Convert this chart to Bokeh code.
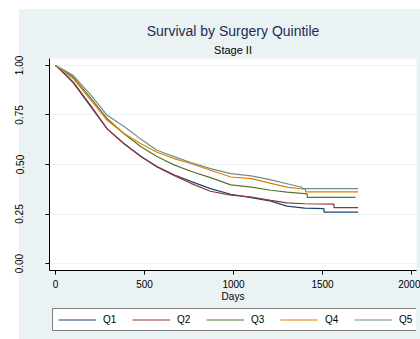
from bokeh.plotting import figure
from bokeh.models import Legend, LegendItem, Title, FixedTicker
from bokeh.layouts import column
from bokeh.embed import file_html
from bokeh.resources import INLINE

# ---- data ----
x_ticks = [0, 500, 1000, 1500, 2000]
y_ticks = [0.0, 0.25, 0.5, 0.75, 1.0]
y_tick_labels = ["0.00", "0.25", "0.50", "0.75", "1.00"]

series_names = ["Q1", "Q2", "Q3", "Q4", "Q5"]

q1_days = [0, 50, 100, 200, 290, 385, 480, 570, 665, 760, 870, 985, 1100, 1210, 1300, 1400, 1508, 1508, 1700]
q1_surv = [1.0, 0.958, 0.912, 0.79, 0.68, 0.605, 0.54, 0.49, 0.448, 0.415, 0.378, 0.35, 0.333, 0.315, 0.29, 0.28, 0.277, 0.26, 0.26]

q2_days = [0, 50, 100, 200, 290, 385, 480, 570, 665, 760, 870, 985, 1100, 1210, 1300, 1400, 1564, 1564, 1700]
q2_surv = [1.0, 0.96, 0.916, 0.795, 0.68, 0.605, 0.54, 0.487, 0.445, 0.405, 0.365, 0.345, 0.336, 0.319, 0.306, 0.302, 0.300, 0.282, 0.282]

q3_days = [0, 50, 100, 200, 290, 385, 480, 570, 665, 760, 870, 985, 1100, 1210, 1300, 1414, 1414, 1685]
q3_surv = [1.0, 0.972, 0.94, 0.832, 0.731, 0.655, 0.59, 0.54, 0.498, 0.466, 0.434, 0.397, 0.386, 0.370, 0.361, 0.352, 0.334, 0.334]

q4_days = [0, 50, 100, 200, 290, 385, 480, 570, 665, 760, 870, 985, 1100, 1210, 1300, 1405, 1405, 1700]
q4_surv = [1.0, 0.968, 0.933, 0.824, 0.723, 0.656, 0.605, 0.562, 0.53, 0.505, 0.471, 0.437, 0.429, 0.405, 0.386, 0.375, 0.362, 0.362]

q5_days = [0, 50, 100, 200, 290, 385, 480, 570, 665, 760, 870, 985, 1100, 1210, 1300, 1386, 1386, 1700]
q5_surv = [1.0, 0.976, 0.949, 0.849, 0.748, 0.692, 0.628, 0.572, 0.54, 0.51, 0.479, 0.454, 0.443, 0.422, 0.403, 0.385, 0.378, 0.378]

all_days = [q1_days, q2_days, q3_days, q4_days, q5_days]
all_surv = [q1_surv, q2_surv, q3_surv, q4_surv, q5_surv]
colors = ["#1A476F", "#90353B", "#55752F", "#E37E00", "#6E8E84"]

BG = "#EAF2F3"
FONT = "Liberation Sans"

p = figure(width=420, height=305, x_range=(-34, 2028), y_range=(-0.035, 1.035),
           output_backend="svg", toolbar_location=None,
           min_border_left=49, min_border_right=4, min_border_top=58, min_border_bottom=35,
           background_fill_color="white", border_fill_color=BG, border_fill_alpha=0.0,
           outline_line_color=None)
p.styles = {"background": f"linear-gradient({BG}, {BG}) 19px 9px / 401px 296px no-repeat, white"}

for d, s, c in zip(all_days, all_surv, colors):
    p.line(d, s, line_color=c, line_width=1.2)

# axes
p.xaxis.ticker = FixedTicker(ticks=x_ticks)
p.yaxis.ticker = FixedTicker(ticks=y_ticks)
p.yaxis.major_label_overrides = {t: l for t, l in zip(y_ticks, y_tick_labels)}
p.yaxis.major_label_orientation = "vertical"
for ax in (p.xaxis, p.yaxis):
    ax.axis_line_color = "black"
    ax.axis_line_width = 1
    ax.major_tick_line_color = "black"
    ax.major_tick_in = 0
    ax.major_tick_out = 4
    ax.minor_tick_line_color = None
    ax.major_label_text_font = FONT
    ax.major_label_text_font_size = "10px"
    ax.major_label_text_color = "black"
p.yaxis.major_label_standoff = 22
p.xaxis.major_label_standoff = 5
p.xaxis.axis_label = "Days"
p.xaxis.axis_label_text_font = FONT
p.xaxis.axis_label_text_font_size = "10px"
p.xaxis.axis_label_text_font_style = "normal"
p.xaxis.axis_label_text_color = "black"
p.xaxis.axis_label_standoff = 0

p.xgrid.visible = False
p.ygrid.grid_line_color = BG
p.ygrid.grid_line_width = 1

# titles
sub = Title(text="Stage II", align="center", text_font=FONT, text_font_size="11px",
            text_font_style="normal", text_color="black", standoff=6)
main = Title(text="Survival by Surgery Quintile", align="center", text_font=FONT,
             text_font_size="14px", text_font_style="normal", text_color="#1E2A55", standoff=0)
p.add_layout(sub, "above")
p.add_layout(main, "above")

# legend strip (separate small figure below the chart; its frame aligns with the chart frame)
lg = figure(width=420, height=34, x_range=(0, 1), y_range=(0, 1),
            output_backend="svg", toolbar_location=None,
            x_axis_location=None, y_axis_location=None,
            min_border_left=0, min_border_right=0, min_border_top=0, min_border_bottom=0,
            background_fill_alpha=0.0, border_fill_alpha=0.0, outline_line_color=None)
lg.styles = {"background": f"linear-gradient({BG}, {BG}) 19px 0px / 401px 34px no-repeat, white"}
lg.xgrid.visible = False
lg.ygrid.visible = False

nan = float("nan")
legend_renderers = [lg.line([nan], [nan], line_color=c, line_width=1.2) for c in colors]
items = [LegendItem(label=n, renderers=[r]) for n, r in zip(series_names, legend_renderers)]
legend = Legend(items=items, orientation="horizontal", location=(3, 8),
                border_line_color="black", border_line_width=1,
                background_fill_color="white", background_fill_alpha=1.0,
                padding=5, spacing=15, margin=0,
                glyph_width=38, glyph_height=11, label_standoff=7,
                label_width=14, label_height=11,
                label_text_font=FONT, label_text_font_size="10px", label_text_color="black")
lg.add_layout(legend, "center")

layout = column(p, lg, spacing=0)
open("out.html", "w").write(file_html(layout, INLINE))
